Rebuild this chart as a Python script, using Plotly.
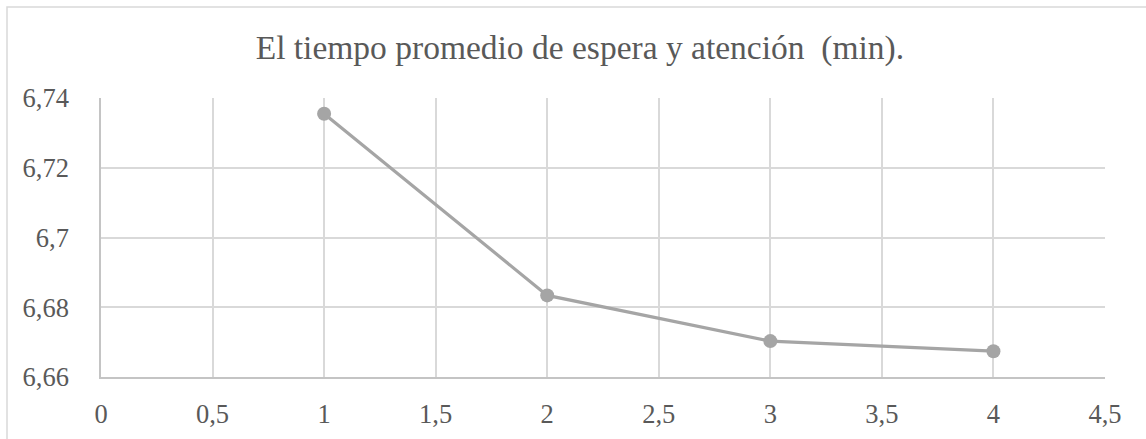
import plotly.graph_objects as go

x_vals = [1, 2, 3, 4]
y_vals = [6.7355, 6.6834, 6.6703, 6.6674]

x_tickvals = [0, 0.5, 1, 1.5, 2, 2.5, 3, 3.5, 4, 4.5]
x_ticktext = ["0", "0,5", "1", "1,5", "2", "2,5", "3", "3,5", "4", "4,5"]
y_tickvals = [6.66, 6.68, 6.70, 6.72, 6.74]
y_ticktext = ["6,66", "6,68", "6,7", "6,72", "6,74"]

title_text = "El tiempo promedio de espera y atención  (min)."

FONT = "'Liberation Serif', 'Times New Roman', Times, serif"
TXT = "#595959"
GRID = "#d9d9d9"

fig = go.Figure()
fig.add_trace(go.Scatter(
    x=x_vals, y=y_vals, mode="lines+markers",
    line=dict(color="#a5a5a5", width=3.2),
    marker=dict(color="#a5a5a5", size=14),
    showlegend=False, cliponaxis=False,
))

fig.update_layout(
    width=1146, height=439,
    margin=dict(l=101, r=41, t=98, b=62, autoexpand=False),
    paper_bgcolor="white", plot_bgcolor="white",
    font=dict(family=FONT, color=TXT, size=26.5),
    title=dict(text=title_text, x=0.506, xanchor="center", y=1 - 47 / 439,
               yanchor="middle", font=dict(family=FONT, size=33.5, color=TXT)),
    xaxis=dict(range=[0, 4.5], tickvals=x_tickvals, ticktext=x_ticktext,
               showgrid=True, gridcolor=GRID, gridwidth=1.5,
               showline=True, linecolor="#c4c4c4", linewidth=1.5,
               zeroline=False, ticks="", ticklabelstandoff=12, automargin=False,
               tickfont=dict(family=FONT, size=26.5, color=TXT)),
    yaxis=dict(range=[6.66, 6.74], tickvals=y_tickvals, ticktext=y_ticktext,
               showgrid=True, gridcolor=GRID, gridwidth=1.5,
               showline=True, linecolor="#c4c4c4", linewidth=1.5,
               zeroline=False, ticks="", ticklabelstandoff=25, automargin=False,
               tickfont=dict(family=FONT, size=26.5, color=TXT)),
    shapes=[dict(type="rect", xref="paper", yref="paper",
                 x0=(7 - 101) / 1004, x1=(1160 - 101) / 1004,
                 y0=(377 - 460) / 279, y1=(377 - 7) / 279,
                 line=dict(color=GRID, width=1.5), layer="below")],
)

fig.write_html("out.html")
